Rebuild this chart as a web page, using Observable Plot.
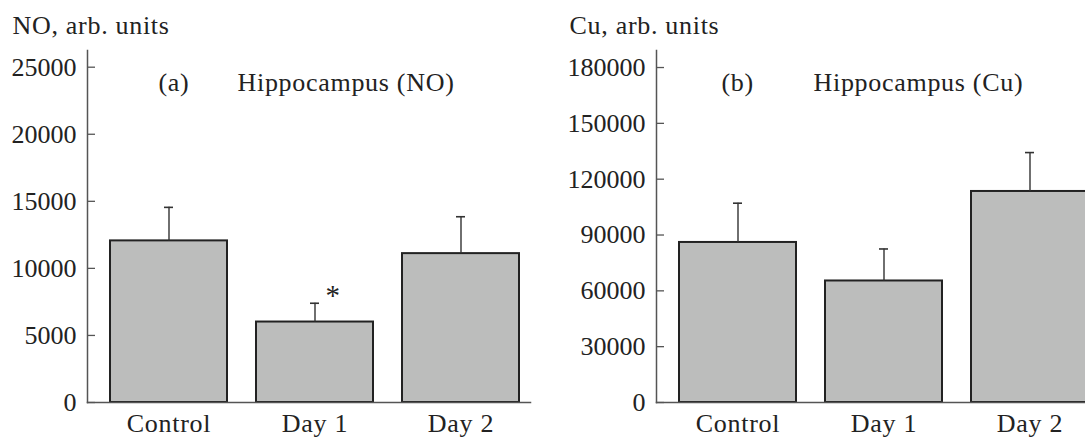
<!DOCTYPE html>
<html>
<head>
<meta charset="utf-8">
<script src="https://cdn.jsdelivr.net/npm/d3@7"></script>
<script src="https://cdn.jsdelivr.net/npm/@observablehq/plot@0.6"></script>
<style>
  html, body { margin: 0; padding: 0; background: #fff; }
  #wrap { display: flex; width: 1085px; height: 437px; overflow: hidden; }
  #left { width: 545px; height: 437px; overflow: hidden; flex: none; }
  #right { width: 540px; height: 437px; overflow: hidden; flex: none; }
  #wrap svg { max-width: none !important; display: block; }
  svg text { letter-spacing: 0.7px; }
  svg g[aria-label="y-axis tick label"] text { letter-spacing: 0; }
</style>
</head>
<body>
<div id="wrap"><div id="left"></div><div id="right"></div></div>
<script>
// ---- data ----
const categories = ["Control", "Day 1", "Day 2"];
const noMean = [12050, 6000, 11100];
const noSE = [2500, 1400, 2750];
const cuMean = [86000, 65300, 113400];
const cuSE = [21100, 17200, 20900];
const noTicks = [0, 5000, 10000, 15000, 20000, 25000];
const cuTicks = [0, 30000, 60000, 90000, 120000, 150000, 180000];
const noSignificant = ["Day 1"];
const cuSignificant = [];

function panel({mean, se, ticks, yMax, width, marginLeft, yLabel, tag, title, tagDx, titleDx, yLabelDx, significant}) {
  const rows = categories.map((c, i) => ({cat: c, v: mean[i], top: mean[i] + se[i]}));
  const stars = rows.filter(r => significant.includes(r.cat));
  return Plot.plot({
    width, height: 437,
    marginLeft, marginRight: 15, marginTop: 50, marginBottom: 35,
    style: {fontFamily: "'Liberation Serif', 'Times New Roman', serif", fontSize: "26px", color: "#222", background: "#fff"},
    x: {domain: categories, paddingInner: 0.2, paddingOuter: 0.112, align: 0.67, label: null},
    y: {domain: [0, yMax], label: null},
    marks: [
      Plot.barY(rows, {x: "cat", y: "v", fill: "#bcbdbc", stroke: "#222", strokeWidth: 2}),
      Plot.ruleX(rows, {x: "cat", y1: "v", y2: "top", stroke: "#333", strokeWidth: 1.4}),
      Plot.tickY(rows, {x: "cat", y: "top", stroke: "#333", strokeWidth: 1.6, insetLeft: 54, insetRight: 54}),
      Plot.text(stars, {x: "cat", y: "top", text: () => "*", dx: 18, dy: 2, lineAnchor: "bottom", fontSize: 29, fill: "#222"}),
      Plot.frame({anchor: "left", stroke: "#555", strokeWidth: 1.5}),
      Plot.frame({anchor: "bottom", stroke: "#555", strokeWidth: 1.5}),
      Plot.axisY({ticks, tickSize: -8, tickPadding: 19, tickFormat: d => String(d), stroke: "#555", strokeWidth: 1.3, fontSize: 26, fill: "#222"}),
      Plot.axisX({tickSize: 0, tickPadding: 11, fontSize: 26, fill: "#222"}),
      Plot.text([yLabel], {frameAnchor: "top-left", text: d => d, textAnchor: "start", lineAnchor: "bottom", dx: yLabelDx, dy: -17, fontSize: 26, fill: "#222"}),
      Plot.text([tag], {frameAnchor: "top-left", text: d => d, textAnchor: "start", lineAnchor: "bottom", dx: tagDx, dy: 40, fontSize: 26, fill: "#222"}),
      Plot.text([title], {frameAnchor: "top-left", text: d => d, textAnchor: "start", lineAnchor: "bottom", dx: titleDx, dy: 40, fontSize: 26, fill: "#222"})
    ]
  });
}

document.getElementById("left").append(panel({
  mean: noMean, se: noSE, ticks: noTicks, yMax: 26245, width: 545, marginLeft: 87,
  yLabel: "NO, arb. units", tag: "(a)", title: "Hippocampus (NO)",
  tagDx: 71, titleDx: 150, yLabelDx: -75, significant: noSignificant
}));
document.getElementById("right").append(panel({
  mean: cuMean, se: cuSE, ticks: cuTicks, yMax: 189150, width: 569, marginLeft: 111,
  yLabel: "Cu, arb. units", tag: "(b)", title: "Hippocampus (Cu)",
  tagDx: 65, titleDx: 157, yLabelDx: -87, significant: cuSignificant
}));
</script>
</body>
</html>
